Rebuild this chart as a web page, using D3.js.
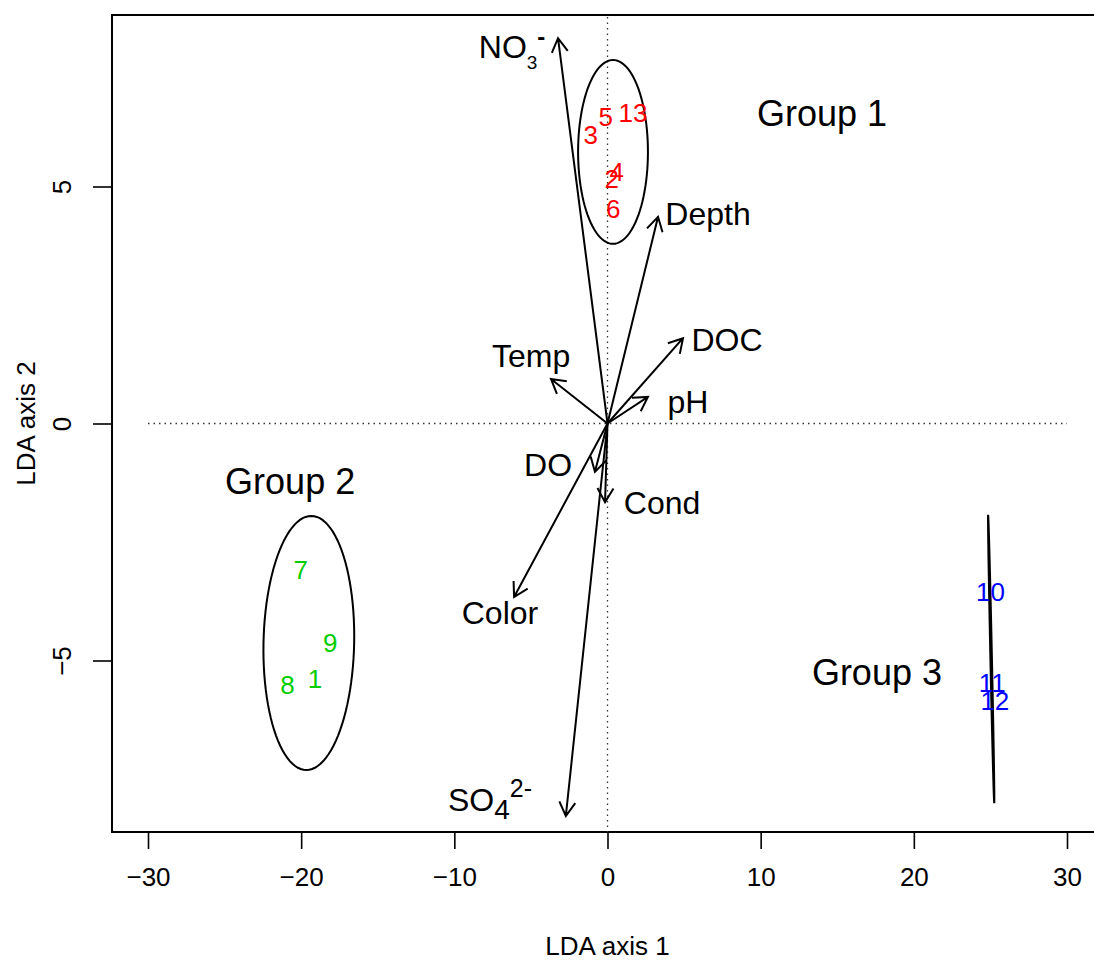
<!DOCTYPE html>
<html>
<head>
<meta charset="utf-8">
<script src="https://cdn.jsdelivr.net/npm/d3@7"></script>
<style>
  body { margin: 0; background: #fff; }
  svg text { font-family: "Liberation Sans", Arial, Helvetica, sans-serif; }
</style>
</head>
<body>
<svg></svg>
<script>
// sites (scores on LDA axes)
var siteLabels = ["5", "13", "3", "4", "2", "6", "7", "9", "8", "1", "10", "11", "12"]
var siteX = [-0.12, 1.66, -1.10, 0.60, 0.27, 0.38, -20.03, -18.11, -20.90, -19.09, 25.01, 25.12, 25.29]
var siteY = [6.47, 6.55, 6.09, 5.31, 5.17, 4.54, -3.09, -4.62, -5.50, -5.38, -3.55, -5.47, -5.84]
var siteGroup = [1, 1, 1, 1, 1, 1, 2, 2, 2, 2, 3, 3, 3]

// environmental variables (arrow tips) and where their names sit
var varNames = ["NO3", "Depth", "DOC", "Temp", "pH", "DO", "Cond", "Color", "SO4"]
var varX = [-3.23, 3.30, 4.93, -3.69, 2.64, -0.82, -0.16, -6.10, -2.72]
var varY = [8.13, 4.36, 1.80, 0.94, 0.56, -1.02, -1.66, -3.66, -8.28]
var varLabelX = [-6.23, 6.56, 7.80, -4.99, 5.25, -3.88, 3.56, -7.02, -7.67]
var varLabelY = [7.94, 4.42, 1.76, 1.42, 0.45, -0.88, -1.68, -4.00, -7.94]

// group ellipses
var groupNames = ["Group 1", "Group 2", "Group 3"]
var ellCX = [0.36, -19.50, 25.05]
var ellCY = [5.73, -4.63, -4.97]
var ellRX = [2.28, 2.96, 0.05]
var ellRY = [1.94, 2.68, 3.04]
var ellSkew = [0, 0.16, -0.2]
var groupLabelX = [14.00, -20.72, 17.59]
var groupLabelY = [6.55, -1.23, -5.26]

var xTicks = [-30, -20, -10, 0, 10, 20, 30]
var yTicks = [-5, 0, 5]
var groupColors = {1: "#ff0000", 2: "#00cd00", 3: "#0000ff"}

var screen = {width: 1094, height: 962}
var box = {left: 112, top: 15, right: 1110, bottom: 832}

var svg = d3.select("svg")
  .attr("width", screen.width)
  .attr("height", screen.height)

var xScale = d3.scaleLinear().domain([-30, 30]).range([148, 1067])
var yScale = d3.scaleLinear().domain([-5, 5]).range([660.5, 186.5])

// frame
svg.append("rect")
  .attr("x", box.left).attr("y", box.top)
  .attr("width", box.right - box.left).attr("height", box.bottom - box.top)
  .attr("fill", "none").attr("stroke", "#000").attr("stroke-width", 2)

// dotted zero lines
svg.append("line")
  .attr("x1", xScale(-30)).attr("x2", xScale(30))
  .attr("y1", yScale(0)).attr("y2", yScale(0))
  .attr("stroke", "#333").attr("stroke-width", 1.3).attr("stroke-dasharray", "1.5,4")
svg.append("line")
  .attr("x1", xScale(0)).attr("x2", xScale(0))
  .attr("y1", box.top + 2).attr("y2", box.bottom)
  .attr("stroke", "#333").attr("stroke-width", 1.3).attr("stroke-dasharray", "1.5,4")

// axes
var xAxis = d3.axisBottom(xScale)
  .tickValues(xTicks)
  .tickSize(16)
  .tickPadding(19)
  .tickFormat(function(d){ return d < 0 ? "\u2212" + Math.abs(d) : d })
var gx = svg.append("g").classed("xAxis", true)
  .attr("transform", "translate(0," + (box.bottom + 1) + ")")
  .call(xAxis)
gx.select(".domain").remove()
gx.selectAll("line").attr("stroke-width", 1.6)
gx.selectAll("text").attr("font-size", 26).attr("fill", "#000")

var yAxis = d3.axisLeft(yScale)
  .tickValues(yTicks)
  .tickSize(19)
  .tickFormat(function(d){ return d < 0 ? "\u2212" + Math.abs(d) : d })
var gy = svg.append("g").classed("yAxis", true)
  .attr("transform", "translate(" + box.left + ",0)")
  .call(yAxis)
gy.select(".domain").remove()
gy.selectAll("line").attr("stroke-width", 1.6)
gy.selectAll("text")
  .attr("font-size", 26).attr("fill", "#000")
  .attr("x", 0).attr("y", 9).attr("dy", null)
  .attr("text-anchor", "middle")
  .attr("transform", "translate(-50,0) rotate(-90)")

svg.append("text")
  .attr("x", xScale(0)).attr("y", 955)
  .attr("text-anchor", "middle").attr("font-size", 26)
  .text("LDA axis 1")
svg.append("text")
  .attr("transform", "translate(35," + yScale(0) + ") rotate(-90)")
  .attr("text-anchor", "middle").attr("font-size", 26)
  .text("LDA axis 2")

// ellipses
var ellLine = d3.line()
var steps = d3.range(0, 101).map(function(i){ return i / 100 * 2 * Math.PI })
groupNames.forEach(function(g, k){
  var pts = steps.map(function(t){
    return [xScale(ellCX[k] + ellRX[k] * Math.cos(t) + ellSkew[k] * Math.sin(t)),
            yScale(ellCY[k] + ellRY[k] * Math.sin(t))]
  })
  svg.append("path")
    .attr("d", ellLine(pts) + "Z")
    .attr("fill", "none").attr("stroke", "#000").attr("stroke-width", 2)
})

// arrows
var headLen = 16, headAng = Math.PI / 6
varNames.forEach(function(v, i){
  var x0 = xScale(0), y0 = yScale(0)
  var x1 = xScale(varX[i]), y1 = yScale(varY[i])
  var a = Math.atan2(y1 - y0, x1 - x0)
  var p = d3.path()
  p.moveTo(x0, y0); p.lineTo(x1, y1)
  p.moveTo(x1 - headLen * Math.cos(a - headAng), y1 - headLen * Math.sin(a - headAng))
  p.lineTo(x1, y1)
  p.lineTo(x1 - headLen * Math.cos(a + headAng), y1 - headLen * Math.sin(a + headAng))
  svg.append("path")
    .attr("d", p.toString())
    .attr("fill", "none").attr("stroke", "#000").attr("stroke-width", 2)
})

// variable labels
varNames.forEach(function(v, i){
  var t = svg.append("text")
    .attr("x", xScale(varLabelX[i])).attr("y", yScale(varLabelY[i]))
    .attr("dy", "0.35em").attr("text-anchor", "middle")
    .attr("font-size", 32)
  if (v == "NO3") {
    t.append("tspan").text("NO")
    t.append("tspan").attr("font-size", 19).attr("dy", 11).text("3")
    t.append("tspan").attr("font-size", 24).attr("font-weight", "bold").attr("dy", -24).text("-")
  } else if (v == "SO4") {
    t.append("tspan").text("SO")
    t.append("tspan").attr("font-size", 28).attr("dy", 8).text("4")
    t.append("tspan").attr("font-size", 25).attr("dy", -22).text("2-")
  } else {
    t.text(v)
  }
})

// sites
svg.selectAll(".site")
  .data(siteLabels)
  .enter()
  .append("text")
  .attr("class", "site")
  .attr("x", function(d, i){ return xScale(siteX[i]) })
  .attr("y", function(d, i){ return yScale(siteY[i]) })
  .attr("dy", "0.36em")
  .attr("text-anchor", "middle")
  .attr("font-size", 26)
  .attr("fill", function(d, i){ return groupColors[siteGroup[i]] })
  .text(function(d){ return d })

// group names
svg.selectAll(".glabel")
  .data(groupNames)
  .enter()
  .append("text")
  .attr("class", "glabel")
  .attr("x", function(d, i){ return xScale(groupLabelX[i]) })
  .attr("y", function(d, i){ return yScale(groupLabelY[i]) })
  .attr("dy", "0.35em")
  .attr("text-anchor", "middle")
  .attr("font-size", 36)
  .text(function(d){ return d })
</script>
</body>
</html>
